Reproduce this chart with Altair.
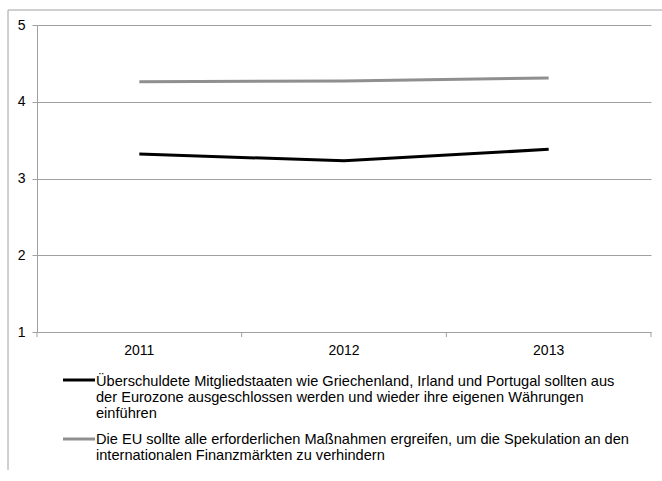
import altair as alt
import pandas as pd

years = [2011, 2012, 2013]
year_labels = ["2011", "2012", "2013"]
series_names = [
    "Überschuldete Mitgliedstaaten sollten aus der Eurozone ausgeschlossen werden",
    "Die EU sollte alle erforderlichen Maßnahmen ergreifen",
]
values_exclude = [3.32, 3.23, 3.38]
values_measures = [4.26, 4.27, 4.31]
series_colors = ["#000000", "#8f8f8f"]

legend_lines_1 = [
    "Überschuldete Mitgliedstaaten wie Griechenland, Irland und Portugal sollten aus",
    "der Eurozone ausgeschlossen werden und wieder ihre eigenen Währungen",
    "einführen",
]
legend_lines_2 = [
    "Die EU sollte alle erforderlichen Maßnahmen ergreifen, um die Spekulation an den",
    "internationalen Finanzmärkten zu verhindern",
]

y_ticks = [1, 2, 3, 4, 5]
x_category_edges = [2010.5, 2011.5, 2012.5, 2013.5]

FONT = "Liberation Sans"
GRID = "#a0a0a0"

rows = []
for name, vals in zip(series_names, [values_exclude, values_measures]):
    for yr, v in zip(years, vals):
        rows.append({"Jahr": yr, "Wert": v, "Reihe": name})
df = pd.DataFrame(rows)

x_scale = alt.Scale(domain=[2010.5, 2013.5], nice=False, zero=False)

y_enc = alt.Y(
    "Wert:Q",
    scale=alt.Scale(domain=[1, 5], nice=False, zero=False),
    axis=alt.Axis(
        values=y_ticks,
        format="d",
        grid=True,
        gridColor=GRID,
        domainColor=GRID,
        tickColor=GRID,
        tickSize=5,
        labelPadding=7,
        labelFont=FONT,
        labelFontSize=14,
        labelColor="#000000",
        title=None,
    ),
)

lines = alt.Chart(df).mark_line(strokeWidth=3).encode(
    x=alt.X("Jahr:Q", scale=x_scale, axis=None),
    y=y_enc,
    color=alt.Color(
        "Reihe:N",
        scale=alt.Scale(domain=series_names, range=series_colors),
        legend=None,
    ),
    detail="Reihe:N",
)

edges_df = pd.DataFrame({"Jahr": x_category_edges})
x_ticks = alt.Chart(edges_df).mark_rule(color=GRID, strokeWidth=1).encode(
    x=alt.X("Jahr:Q", scale=x_scale, axis=None),
    y=alt.value(307),
    y2=alt.value(312),
)

labels_df = pd.DataFrame({"Jahr": years, "Label": year_labels})
x_labels = alt.Chart(labels_df).mark_text(
    align="center", baseline="alphabetic", font=FONT, fontSize=14, color="#000000"
).encode(
    x=alt.X("Jahr:Q", scale=x_scale, axis=None),
    y=alt.value(330),
    text="Label:N",
)

one = pd.DataFrame({"k": [0]})

border_top = alt.Chart(one).mark_rule(color=GRID, strokeWidth=1).encode(
    x=alt.value(-29), x2=alt.value(630), y=alt.value(-15)
)
border_left = alt.Chart(one).mark_rule(color=GRID, strokeWidth=1).encode(
    x=alt.value(-29), y=alt.value(-15), y2=alt.value(445)
)

leg_rule_1 = alt.Chart(one).mark_rule(color=series_colors[0], strokeWidth=3).encode(
    x=alt.value(26), x2=alt.value(58), y=alt.value(355)
)
leg_rule_2 = alt.Chart(one).mark_rule(color=series_colors[1], strokeWidth=3).encode(
    x=alt.value(26), x2=alt.value(58), y=alt.value(414)
)
leg_text_1 = alt.Chart(one).mark_text(
    text=legend_lines_1, align="left", baseline="top", font=FONT, fontSize=14.6,
    lineHeight=16, color="#000000"
).encode(x=alt.value(59), y=alt.value(349))
leg_text_2 = alt.Chart(one).mark_text(
    text=legend_lines_2, align="left", baseline="top", font=FONT, fontSize=14.6,
    lineHeight=16, color="#000000"
).encode(x=alt.value(59), y=alt.value(407))

chart = alt.layer(
    border_top, border_left, lines, x_ticks, x_labels,
    leg_rule_1, leg_rule_2, leg_text_1, leg_text_2
).properties(
    width=614,
    height=307,
    padding={"left": 37, "top": 25, "right": 11, "bottom": 149},
    autosize=alt.AutoSizeParams(type="none"),
    background="#ffffff",
).configure_view(stroke=None)

chart.save("out.html", embed_options={"renderer": "svg", "actions": False})
